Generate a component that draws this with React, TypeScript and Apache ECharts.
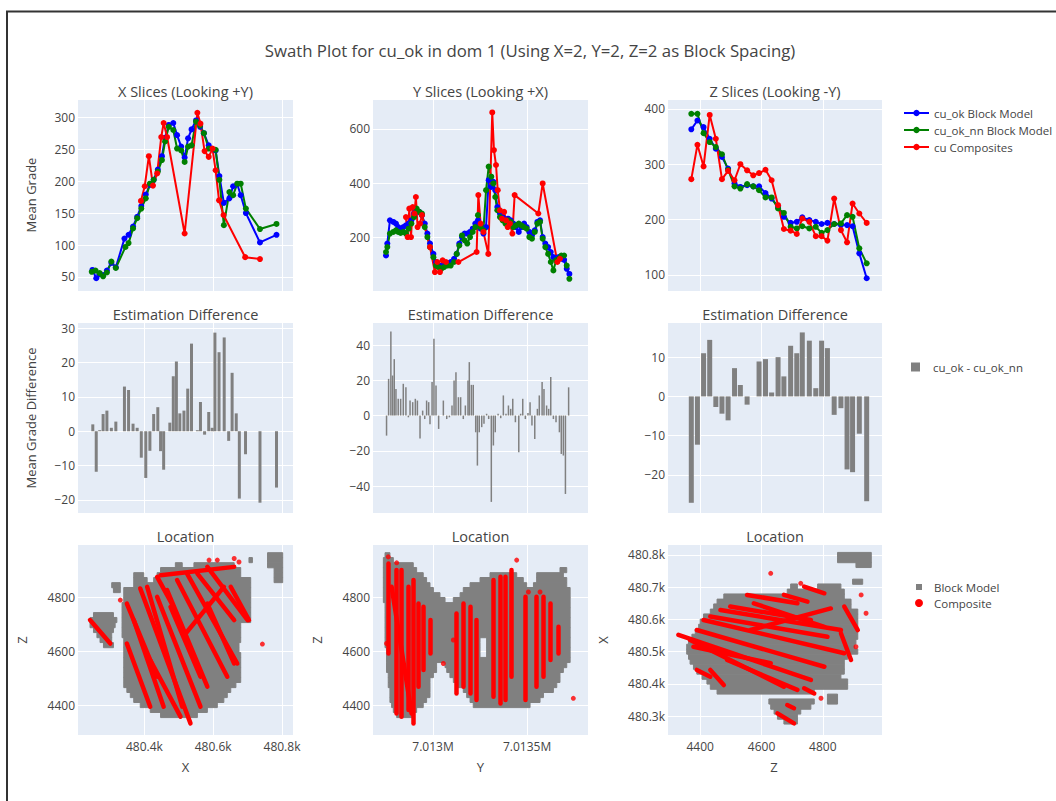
import React, { useEffect, useRef } from "react";
import * as echarts from "echarts";

// ---------- Top row: swath means ----------
const xSliceOk = [[480249,61],[480260,48],[480269,54],[480280,53],[480291,60],[480304,72],[480317,65],[480342,110],[480354,116],[480367,129],[480379,144],[480391,161],[480404,179],[480416,194],[480427,202],[480439,218],[480451,239],[480460,268],[480471,288],[480484,291],[480495,272],[480507,254],[480517,237],[480527,267],[480537,281],[480550,295],[480562,285],[480573,275],[480587,256],[480607,248],[480618,208],[480631,166],[480647,173],[480658,192],[480670,195],[480680,178],[480695,150],[480736,104],[480784,116]];
const xSliceNn = [[480247,58],[480258,60],[480270,56],[480280,51],[480291,57],[480304,74],[480317,64],[480345,97],[480354,103],[480367,126],[480379,142],[480391,157],[480404,173],[480416,196],[480427,202],[480439,215],[480451,233],[480460,262],[480471,285],[480484,280],[480495,251],[480507,248],[480517,230],[480527,254],[480537,256],[480550,293],[480562,287],[480573,275],[480587,251],[480607,249],[480618,202],[480631,131],[480647,183],[480658,178],[480670,196],[480680,196],[480695,157],[480736,125],[480784,133]];
const xSliceComp = [[480390,169],[480401,192],[480413,239],[480425,193],[480437,212],[480449,269],[480456,291],[480466,269],[480517,118],[480554,307],[480563,290],[480575,247],[480587,238],[480598,251],[480607,217],[480617,170],[480630,147],[480693,81],[480736,78]];

const ySliceOk = [[7012750,133],[7012757,177],[7012771,263],[7012789,257],[7012803,251],[7012815,238],[7012828,232],[7012842,238],[7012856,244],[7012870,251],[7012885,263],[7012899,288],[7012913,300],[7012927,294],[7012941,282],[7012956,251],[7012970,214],[7012984,177],[7013002,139],[7013016,109],[7013030,96],[7013044,96],[7013058,102],[7013076,105],[7013094,109],[7013112,121],[7013126,139],[7013140,177],[7013154,201],[7013168,214],[7013182,214],[7013197,220],[7013211,232],[7013225,251],[7013239,263],[7013253,232],[7013268,214],[7013282,238],[7013296,411],[7013310,386],[7013321,405],[7013331,374],[7013342,312],[7013356,288],[7013370,275],[7013385,263],[7013399,269],[7013413,263],[7013427,251],[7013441,238],[7013456,220],[7013470,238],[7013484,251],[7013498,238],[7013512,220],[7013526,207],[7013541,226],[7013555,257],[7013569,263],[7013583,201],[7013597,177],[7013612,164],[7013626,146],[7013640,127],[7013654,121],[7013668,127],[7013682,121],[7013697,117],[7013711,84],[7013725,65]];
const ySliceNn = [[7012750,146],[7012757,164],[7012771,214],[7012789,220],[7012803,226],[7012815,220],[7012828,216],[7012842,220],[7012856,214],[7012870,232],[7012885,251],[7012899,275],[7012913,306],[7012927,294],[7012941,288],[7012956,238],[7012970,201],[7012984,164],[7013002,127],[7013016,96],[7013030,90],[7013044,84],[7013058,90],[7013076,96],[7013094,96],[7013112,109],[7013126,139],[7013140,170],[7013154,207],[7013168,189],[7013182,177],[7013197,201],[7013211,220],[7013225,238],[7013239,282],[7013253,238],[7013268,226],[7013282,374],[7013296,461],[7013310,424],[7013321,399],[7013331,349],[7013342,300],[7013356,275],[7013370,263],[7013385,251],[7013399,263],[7013413,257],[7013427,238],[7013441,244],[7013456,251],[7013470,244],[7013484,238],[7013498,232],[7013512,201],[7013526,195],[7013541,220],[7013555,251],[7013569,257],[7013583,195],[7013597,164],[7013612,139],[7013626,109],[7013640,78],[7013654,115],[7013668,121],[7013682,133],[7013697,133],[7013711,96],[7013725,47]];
const ySliceComp = [[7012856,275],[7012865,201],[7012874,306],[7012883,201],[7012892,312],[7012901,288],[7012909,349],[7012918,238],[7012931,251],[7012941,282],[7012984,164],[7013010,72],[7013023,109],[7013037,72],[7013051,115],[7013069,109],[7013135,109],[7013232,146],[7013241,356],[7013253,251],[7013268,220],[7013294,139],[7013315,661],[7013324,522],[7013335,467],[7013344,374],[7013356,300],[7013367,269],[7013378,294],[7013388,263],[7013397,238],[7013409,251],[7013422,214],[7013434,356],[7013560,288],[7013583,399],[7013661,109],[7013675,121]];

const zSlicePos = [4371,4391,4411,4431,4451,4471,4491,4512,4531,4553,4573,4592,4613,4633,4654,4673,4695,4715,4733,4756,4777,4796,4815,4837,4859,4879,4897,4919,4943];
const zSliceOk = [363,379,367,346,328,313,292,265,259,262,260,260,248,238,223,205,194,196,204,199,196,192,194,192,190,190,188,139,94];
const zSliceNn = [391,391,356,340,331,318,290,260,256,264,260,253,240,240,220,212,187,184,188,184,187,176,181,192,193,208,205,148,121];
const zSliceComp = [273,335,296,389,346,273,288,271,300,289,280,284,290,271,226,183,180,174,202,196,170,170,162,238,181,159,229,211,194];

// ---------- Middle row: estimation difference ----------
const xDiff = [[480250,2],[480260,-11.8],[480270,0.3],[480280,5],[480291,6],[480304,1],[480317,2.8],[480342,13],[480354,12],[480367,2.2],[480379,1],[480391,-7.7],[480404,-13.6],[480416,-5.7],[480427,5],[480439,7],[480447,-5.8],[480456,-11.2],[480474,2.5],[480484,16],[480493,20.3],[480503,5.2],[480515,6],[480526,12.4],[480537,25.5],[480554,0.3],[480563,8.5],[480575,-1],[480587,5.6],[480597,1],[480605,28.7],[480617,23],[480632,27.3],[480645,-2.8],[480655,17],[480667,5.2],[480676,-19.6],[480694,-6.7],[480736,-20.8],[480784,-16.4]];
const yDiff = [[7012753,-11.4],[7012764,20.8],[7012776,47.7],[7012785,22.7],[7012794,32],[7012803,15],[7012815,9.5],[7012828,9.5],[7012842,18],[7012856,16],[7012869,-1],[7012878,8.5],[7012892,7.6],[7012906,9.5],[7012917,8.5],[7012931,-13],[7012945,2.8],[7012956,-2],[7012966,8.5],[7012977,7.6],[7012984,-5],[7012995,19],[7013005,43.6],[7013016,17],[7013030,-7.6],[7013055,8.5],[7013073,-2],[7013087,-1],[7013101,5.7],[7013112,19.9],[7013122,24.6],[7013135,10.4],[7013147,10.4],[7013161,-2],[7013172,5.7],[7013186,19.9],[7013193,30.3],[7013204,17.4],[7013214,17.4],[7013227,-9.5],[7013236,-28.4],[7013246,-9.5],[7013259,-6.6],[7013271,-4.7],[7013285,1],[7013296,-2],[7013310,-49],[7013321,-17],[7013331,-9.5],[7013346,1],[7013360,-1.5],[7013374,11.4],[7013388,1],[7013401,5.7],[7013413,3.8],[7013424,9.5],[7013438,-3.8],[7013456,-20.8],[7013466,1],[7013477,9.5],[7013491,-2],[7013505,1.5],[7013516,7.6],[7013526,-5.7],[7013541,-13.3],[7013555,3.8],[7013565,11.4],[7013580,19],[7013590,15],[7013604,5.7],[7013615,3.8],[7013626,21.8],[7013640,-2],[7013654,-3.8],[7013672,-9.5],[7013682,-21.8],[7013693,-22.7],[7013704,-44.5],[7013721,16]];
const zDiffPos = [4371,4391,4411,4431,4451,4471,4491,4512,4531,4553,4592,4613,4633,4654,4673,4695,4715,4733,4756,4777,4796,4815,4837,4859,4879,4897,4919,4943];
const zDiffVal = [-27.1,-12.3,11,14.4,-2.7,-4.4,-6.1,7.2,2.9,-2.1,8.9,9.5,1,10,5.1,12.9,11,16.3,14.2,2.1,14.2,12.3,-4.7,-3,-18.6,-19.3,-9.5,-26.7];

// ---------- Bottom row: locations (block rows [from, to, level]; composite traces [a1, b1, a2, b2]) ----------
const locXZBlocks = [[480758,480802,4955],[480758,480802,4937],[480704,480714,4937],[480758,480802,4918],[480490,480510,4918],[480544,480661,4918],[480777,480802,4900],[480447,480680,4900],[480777,480802,4881],[480369,480398,4881],[480437,480680,4881],[480777,480802,4863],[480369,480408,4863],[480427,480709,4863],[480305,480330,4844],[480369,480709,4844],[480310,480330,4826],[480340,480709,4826],[480340,480709,4807],[480340,480709,4789],[480335,480709,4770],[480335,480709,4752],[480252,480310,4733],[480335,480709,4733],[480242,480320,4715],[480335,480709,4715],[480242,480315,4696],[480335,480680,4696],[480252,480310,4678],[480335,480680,4678],[480262,480305,4659],[480335,480680,4659],[480271,480305,4641],[480340,480680,4641],[480281,480310,4622],[480340,480675,4622],[480340,480675,4604],[480340,480680,4585],[480340,480680,4567],[480340,480680,4548],[480340,480680,4530],[480340,480680,4511],[480340,480680,4493],[480340,480666,4474],[480349,480651,4456],[480359,480641,4437],[480369,480631,4419],[480388,480612,4400],[480417,480583,4382],[480447,480554,4363]];
const locXZTraces = [[480388,4832,480534,4332],[480408,4838,480510,4394],[480437,4801,480563,4394],[480466,4826,480583,4468],[480495,4863,480641,4505],[480524,4887,480670,4554],[480554,4887,480661,4715],[480349,4776,480437,4505],[480369,4715,480456,4394],[480349,4628,480417,4394],[480437,4875,480485,4764],[480520,4665,480631,4838],[480583,4912,480700,4715],[480651,4838,480704,4715],[480242,4715,480301,4628],[480447,4881,480661,4912],[480476,4764,480563,4505],[480417,4567,480505,4357],[480583,4776,480661,4554]];
const locXZDots = [[480330,4789],[480661,4943],[480612,4937],[480675,4930],[480743,4626],[480588,4937]];

const locYZBlocks = [[7012745,7012771,4955],[7012736,7012789,4937],[7012736,7012895,4918],[7012736,7012913,4900],[7013675,7013711,4900],[7012736,7012948,4881],[7013303,7013445,4881],[7013551,7013693,4881],[7012736,7012966,4863],[7013250,7013480,4863],[7013551,7013711,4863],[7012736,7012984,4844],[7013197,7013498,4844],[7013534,7013711,4844],[7012736,7013002,4826],[7013161,7013729,4826],[7012736,7013037,4807],[7013144,7013729,4807],[7012736,7013064,4789],[7013108,7013729,4789],[7012745,7013729,4770],[7012745,7013729,4752],[7012745,7013729,4733],[7012745,7013729,4715],[7012745,7013729,4696],[7012745,7013729,4678],[7012745,7013729,4659],[7012745,7013250,4641],[7013285,7013729,4641],[7012745,7013250,4622],[7013285,7013729,4622],[7012753,7013250,4604],[7013285,7013729,4604],[7012753,7013250,4585],[7013285,7013729,4585],[7012753,7013729,4567],[7012753,7013019,4548],[7013064,7013711,4548],[7012753,7013019,4530],[7013073,7013693,4530],[7012762,7013002,4511],[7013090,7013675,4511],[7012762,7012984,4493],[7013108,7013675,4493],[7012762,7012984,4474],[7013126,7013658,4474],[7012771,7012984,4456],[7013161,7013640,4456],[7012771,7012984,4437],[7013179,7013587,4437],[7012771,7012966,4419],[7013197,7013569,4419],[7012780,7012948,4400],[7013214,7013516,4400],[7012789,7012913,4382],[7012807,7012895,4363]];
const locYZTraces = [[7012762,4924,7012762,4591],[7012807,4900,7012807,4369],[7012833,4900,7012833,4357],[7012869,4838,7012869,4382],[7012895,4863,7012895,4332],[7012922,4776,7012922,4468],[7012948,4764,7012948,4530],[7012984,4715,7012984,4591],[7013126,4739,7013126,4443],[7013161,4776,7013161,4468],[7013197,4764,7013197,4443],[7013232,4715,7013232,4419],[7013321,4863,7013321,4431],[7013356,4875,7013356,4406],[7013383,4875,7013383,4419],[7013418,4900,7013418,4505],[7013489,4801,7013489,4419],[7013551,4801,7013551,4468],[7013587,4801,7013587,4505],[7013622,4776,7013622,4567],[7013667,4690,7013667,4591],[7012780,4838,7012886,4369]];
const locYZDots = [[7012762,4949],[7012807,4927],[7013445,4937],[7013507,4819],[7013569,4819],[7013746,4425],[7012753,4628],[7013055,4554],[7013108,4641]];

const locZXBlocks = [[4848,4958,480800],[4848,4958,480784],[4908,4958,480769],[4897,4930,480717],[4695,4717,480702],[4783,4859,480702],[4684,4870,480686],[4477,4870,480671],[4455,4892,480655],[4444,4892,480640],[4433,4914,480624],[4411,4914,480609],[4400,4914,480593],[4395,4914,480577],[4384,4914,480562],[4373,4914,480546],[4362,4908,480531],[4356,4903,480515],[4356,4881,480500],[4886,4914,480500],[4362,4881,480484],[4367,4870,480469],[4378,4870,480453],[4389,4870,480438],[4406,4859,480422],[4422,4881,480407],[4433,4881,480391],[4455,4772,480376],[4815,4848,480360],[4624,4772,480345],[4815,4848,480345],[4630,4761,480329],[4641,4728,480314],[4652,4717,480298],[4673,4717,480283]];
const locZXTraces = [[4329,480552,4761,480412],[4367,480536,4673,480391],[4389,480567,4805,480453],[4411,480598,4870,480495],[4433,480609,4815,480546],[4466,480629,4859,480567],[4498,480640,4761,480598],[4553,480676,4717,480650],[4575,480650,4805,480577],[4564,480567,4826,480634],[4673,480676,4750,480655],[4739,480702,4805,480681],[4870,480640,4914,480567],[4859,480557,4892,480474],[4433,480443,4477,480396],[4389,480443,4433,480422],[4652,480308,4706,480277],[4684,480334,4706,480324],[4739,480386,4772,480370],[4488,480474,4717,480381],[4378,480515,4630,480464]];
const locZXDots = [[4630,480743],[4728,480712],[4925,480676],[4941,480619],[4794,480355],[4908,480515]];

// ---------- Axis ticks ----------
const ticksX = [480400, 480600, 480800];
const ticksY = [7013000, 7013500];
const ticksZ = [4400, 4600, 4800];
const ticksTop1 = [50, 100, 150, 200, 250, 300];
const ticksTop2 = [200, 400, 600];
const ticksTop3 = [100, 200, 300, 400];
const ticksMid1 = [-20, -10, 0, 10, 20, 30];
const ticksMid2 = [-40, -20, 0, 20, 40];
const ticksMid3 = [-20, -10, 0, 10];
const ticksLocZ = [4400, 4600, 4800];
const ticksLocX = [480300, 480400, 480500, 480600, 480700, 480800];

const FONT = '"Open Sans", "Noto Sans", sans-serif';
const TXT = "#444";
const BLUE = "#0000ff";
const GREEN = "#008000";
const RED = "#ff0000";
const GREY = "#808080";

const numFmt = (v: number) => (v < 0 ? "\u2212" + Math.abs(v) : String(v));
const kFmt = (v: number) => (v / 1000).toFixed(1) + "k";
const mFmt = (v: number) => String(+(v / 1e6).toFixed(4)) + "M";

function axis(gridIndex: number, min: number, max: number, ticks: number[], showLabel: boolean, fmt: (v: number) => string, margin: number) {
  return {
    type: "value",
    gridIndex,
    min,
    max,
    axisLine: { show: false },
    axisTick: { show: false, customValues: ticks },
    axisLabel: {
      show: showLabel,
      customValues: ticks,
      formatter: fmt,
      color: TXT,
      fontSize: 12,
      fontFamily: FONT,
      margin,
    },
    splitLine: { show: true, lineStyle: { color: "#ffffff", width: 1 } },
  };
}

function lineSeries(name: string, color: string, data: number[][], idx: number) {
  return {
    type: "line",
    name,
    xAxisIndex: idx,
    yAxisIndex: idx,
    data,
    symbol: "circle",
    symbolSize: 6,
    showSymbol: true,
    lineStyle: { color, width: 2 },
    itemStyle: { color },
    emphasis: { disabled: true },
  };
}

function barSeries(data: number[][], idx: number, width: number) {
  return {
    type: "bar",
    name: "cu_ok - cu_ok_nn",
    xAxisIndex: idx,
    yAxisIndex: idx,
    data,
    barWidth: width,
    itemStyle: { color: GREY },
    emphasis: { disabled: true },
  };
}

function blockSeries(data: number[][], idx: number, rowH: number) {
  return {
    type: "custom",
    name: "Block Model",
    xAxisIndex: idx,
    yAxisIndex: idx,
    data,
    clip: true,
    itemStyle: { color: GREY },
    encode: { x: [0, 1], y: 2 },
    renderItem: (params: any, api: any) => {
      const a = api.coord([api.value(0), api.value(2) + rowH / 2]);
      const b = api.coord([api.value(1), api.value(2) - rowH / 2]);
      return {
        type: "rect",
        shape: { x: a[0], y: a[1], width: b[0] - a[0], height: b[1] - a[1] },
        style: { fill: GREY, stroke: GREY, lineWidth: 1 },
      };
    },
  };
}

function traceSeries(segs: number[][], idx: number) {
  return {
    type: "lines",
    name: "Composite",
    coordinateSystem: "cartesian2d",
    xAxisIndex: idx,
    yAxisIndex: idx,
    polyline: false,
    clip: true,
    data: segs.map((s) => ({ coords: [[s[0], s[1]], [s[2], s[3]]] })),
    lineStyle: { color: RED, width: 4.5, opacity: 1, cap: "round" },
    itemStyle: { color: RED },
    silent: true,
  };
}

function dotSeries(data: number[][], idx: number) {
  return {
    type: "scatter",
    name: "Composite",
    xAxisIndex: idx,
    yAxisIndex: idx,
    data,
    symbolSize: 5,
    itemStyle: { color: RED },
  };
}

const txt = (text: string, x: number, y: number, size: number, rot = 0) => ({
  type: "text",
  x,
  y,
  rotation: rot,
  style: { text, fill: TXT, font: `${size}px ${FONT}`, textAlign: "center", textVerticalAlign: "middle" },
});

export default function App() {
  const ref = useRef<HTMLDivElement>(null);
  useEffect(() => {
    if (!ref.current) return;
    const chart = echarts.init(ref.current, undefined, { renderer: "svg" });
    const cols = [78, 373, 668];
    const widths = [215, 215, 214];
    const rows = [100, 323, 545];
    const heights = [191, 190, 190];
    const grid: any[] = [];
    for (let r = 0; r < 3; r++)
      for (let c = 0; c < 3; c++)
        grid.push({ left: cols[c], top: rows[r], width: widths[c], height: heights[r], backgroundColor: "#E5ECF6", show: true, borderWidth: 0, containLabel: false, outerBoundsMode: "none" });

    const xRanges: [number, number, number[], (v: number) => string][] = [
      [480207, 480832, ticksX, kFmt],
      [7012681, 7013824, ticksY, mFmt],
      [4295, 4993, ticksZ, numFmt],
    ];
    const xAxis: any[] = [];
    for (let r = 0; r < 3; r++)
      for (let c = 0; c < 3; c++) {
        const [mn, mx, tk, f] = xRanges[c];
        xAxis.push(axis(r * 3 + c, mn, mx, tk, r === 2, f, 5));
      }
    const yAxis: any[] = [
      axis(0, 28, 327, ticksTop1, true, numFmt, 3),
      axis(1, 2, 707, ticksTop2, true, numFmt, 3),
      axis(2, 71, 416, ticksTop3, true, numFmt, 3),
      axis(3, -23.8, 31.5, ticksMid1, true, numFmt, 3),
      axis(4, -55.3, 52.5, ticksMid2, true, numFmt, 3),
      axis(5, -29.7, 18.7, ticksMid3, true, numFmt, 3),
      axis(6, 4289, 4993, ticksLocZ, true, numFmt, 3),
      axis(7, 4289, 4993, ticksLocZ, true, numFmt, 3),
      axis(8, 480241, 480831, ticksLocX, true, kFmt, 3),
    ];

    const zOk = zSlicePos.map((z, i) => [z, zSliceOk[i]]);
    const zNn = zSlicePos.map((z, i) => [z, zSliceNn[i]]);
    const zComp = zSlicePos.map((z, i) => [z, zSliceComp[i]]);
    const zDiff = zDiffPos.map((z, i) => [z, zDiffVal[i]]);

    const series: any[] = [
      lineSeries("cu_ok Block Model", BLUE, xSliceOk, 0),
      lineSeries("cu_ok_nn Block Model", GREEN, xSliceNn, 0),
      lineSeries("cu Composites", RED, xSliceComp, 0),
      lineSeries("cu_ok Block Model", BLUE, ySliceOk, 1),
      lineSeries("cu_ok_nn Block Model", GREEN, ySliceNn, 1),
      lineSeries("cu Composites", RED, ySliceComp, 1),
      lineSeries("cu_ok Block Model", BLUE, zOk, 2),
      lineSeries("cu_ok_nn Block Model", GREEN, zNn, 2),
      lineSeries("cu Composites", RED, zComp, 2),
      barSeries(xDiff, 3, 3),
      barSeries(yDiff, 4, 1.5),
      barSeries(zDiff, 5, 5),
      blockSeries(locXZBlocks, 6, 19),
      blockSeries(locYZBlocks, 7, 19),
      blockSeries(locZXBlocks, 8, 16),
      traceSeries(locXZTraces, 6),
      traceSeries(locYZTraces, 7),
      traceSeries(locZXTraces, 8),
      dotSeries(locXZDots, 6),
      dotSeries(locYZDots, 7),
      dotSeries(locZXDots, 8),
    ];

    const legendText = { fontSize: 11.5, color: TXT, fontFamily: FONT, lineHeight: 12 };
    const legend = [
      {
        data: ["cu_ok Block Model", "cu_ok_nn Block Model", "cu Composites"],
        orient: "vertical",
        left: 898,
        top: 102,
        itemWidth: 25,
        itemHeight: 8,
        itemGap: 5,
        selectedMode: false,
        textStyle: legendText,
      },
      {
        data: [{ name: "cu_ok - cu_ok_nn", icon: "rect" }],
        orient: "vertical",
        left: 906,
        top: 356,
        itemWidth: 9,
        itemHeight: 9,
        selectedMode: false,
        textStyle: { ...legendText, padding: [0, 0, 0, 8] },
      },
      {
        data: [
          { name: "Block Model", icon: "rect" },
          { name: "Composite", icon: "circle" },
        ],
        orient: "vertical",
        left: 910,
        top: 576,
        itemWidth: 6,
        itemHeight: 6,
        itemGap: 4,
        selectedMode: false,
        textStyle: { ...legendText, padding: [0, 0, 0, 7] },
      },
    ];

    const R90 = Math.PI / 2;
    const graphic = [
      {
        type: "polyline",
        shape: { points: [[7, 801], [7, 11.5], [1056, 11.5]] },
        style: { stroke: "#333", lineWidth: 2, fill: null },
      },
      txt("Swath Plot for cu_ok in dom 1 (Using X=2, Y=2, Z=2 as Block Spacing)", 530, 50, 16.8),
      txt("X Slices (Looking +Y)", 185.5, 91, 14.5),
      txt("Y Slices (Looking +X)", 480.5, 91, 14.5),
      txt("Z Slices (Looking -Y)", 775, 91, 14.5),
      txt("Estimation Difference", 185.5, 314, 14.5),
      txt("Estimation Difference", 480.5, 314, 14.5),
      txt("Estimation Difference", 775, 314, 14.5),
      txt("Location", 185.5, 536, 14.5),
      txt("Location", 480.5, 536, 14.5),
      txt("Location", 775, 536, 14.5),
      txt("Mean Grade", 31, 195, 13, R90),
      txt("Mean Grade Difference", 31, 418, 13, R90),
      txt("Z", 22, 640, 13, R90),
      txt("Z", 317, 640, 13, R90),
      txt("X", 603, 640, 13, R90),
      txt("X", 185.5, 767, 13),
      txt("Y", 480.5, 767, 13),
      txt("Z", 774, 767, 13),
    ];

    chart.setOption({
      animation: false,
      backgroundColor: "#ffffff",
      textStyle: { fontFamily: FONT },
      grid,
      xAxis,
      yAxis,
      series,
      legend,
      graphic,
    });
    return () => chart.dispose();
  }, []);
  return <div ref={ref} style={{ position: "absolute", left: 0, top: 0, width: 1056, height: 801, background: "#fff" }} />;
}
